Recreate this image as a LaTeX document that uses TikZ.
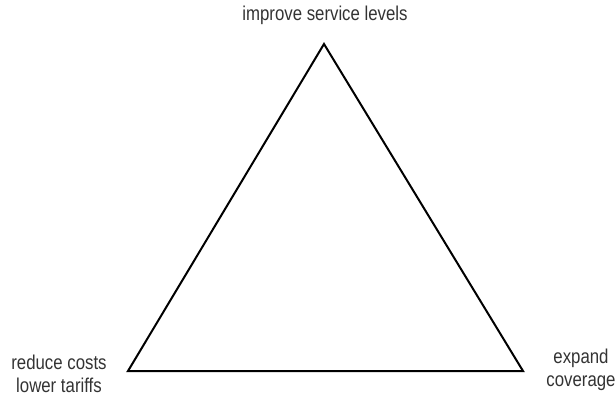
\documentclass[tikz,border=0pt]{standalone}
\usepackage{fontspec}
\setmainfont{Liberation Sans}[FakeStretch=0.84]
\usetikzlibrary{positioning}
\definecolor{labelgray}{HTML}{333333}
\tikzset{
  corner label/.style = {
    align = center,
    text = labelgray,
    font = \fontsize{20}{23}\selectfont,
    inner sep = 0pt}
}

\begin{document}
\begin{tikzpicture}[x = 1pt, y = -1pt, line width = 2pt, line join = miter]
  \useasboundingbox (0,0) rectangle (616,393);
  \coordinate (service) at (324,44);
  \coordinate (costs) at (128,371);
  \coordinate (coverage) at (523,371);
  \draw (service) -- (costs) -- (coverage) -- cycle;
  \node[corner label] (service label) at (325,15) {improve service levels};
  \node[corner label] (costs label) at (59,374) {reduce costs\\lower tariffs};
  \node[corner label] (coverage label) at (581,370) {expand\\coverage};
\end{tikzpicture}
\end{document}
